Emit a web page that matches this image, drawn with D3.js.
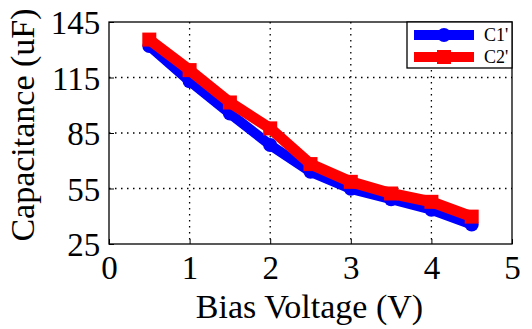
<!DOCTYPE html>
<html>
<head>
<meta charset="utf-8">
<script src="https://cdn.jsdelivr.net/npm/d3@7"></script>
<style>
  body { margin: 0; background: #fff; }
  svg { display: block; }
  svg text { font-family: "Liberation Serif", "Times New Roman", serif; fill: #000; }
</style>
</head>
<body>
<div id="chart"></div>
<script>
// data
var voltage = [0.5, 1, 1.5, 2, 2.5, 3, 3.5, 4, 4.5];
var c1 = [132, 113, 95.5, 78.5, 64, 54.8, 49.2, 43.5, 35.5];
var c2 = [135.5, 119, 101.5, 87.5, 68.2, 58.6, 52.3, 47.8, 39.8];
var xTicks = [0, 1, 2, 3, 4, 5];
var yTicks = [25, 55, 85, 115, 145];
var seriesNames = ["C1'", "C2'"];

var width = 532,
    height = 329,
    margin = {top: 22, right: 20, bottom: 85, left: 109};

var svg = d3.select("#chart").append("svg")
    .attr("width", width)
    .attr("height", height);

var w = width - margin.left - margin.right,
    h = height - margin.top - margin.bottom;

var x = d3.scaleLinear().domain([0, 5]).range([0, w]);
var y = d3.scaleLinear().domain([25, 145]).range([h, 0]);

var g = svg.append("g")
    .attr("transform", "translate(" + margin.left + "," + margin.top + ")");

// dotted grid
g.append("g").selectAll("line")
    .data(xTicks.slice(1, -1))
    .enter().append("line")
    .attr("x1", function(d){ return x(d); })
    .attr("x2", function(d){ return x(d); })
    .attr("y1", 0).attr("y2", h)
    .attr("stroke", "#000").attr("stroke-width", 1.3)
    .attr("stroke-dasharray", "1.5,4.5");

g.append("g").selectAll("line")
    .data(yTicks.slice(1, -1))
    .enter().append("line")
    .attr("y1", function(d){ return y(d); })
    .attr("y2", function(d){ return y(d); })
    .attr("x1", 0).attr("x2", w)
    .attr("stroke", "#000").attr("stroke-width", 1.3)
    .attr("stroke-dasharray", "1.5,4.5");

// axes
var xAxis = d3.axisBottom(x).tickValues(xTicks).tickFormat(d3.format("d"))
    .tickSizeInner(-5).tickSizeOuter(0).tickPadding(10);
var yAxis = d3.axisLeft(y).tickValues(yTicks).tickFormat(d3.format("d"))
    .tickSizeInner(-5).tickSizeOuter(0).tickPadding(12);

var gx = g.append("g")
    .attr("transform", "translate(0," + h + ")")
    .call(xAxis);
gx.select(".domain").remove();
gx.selectAll("line").attr("stroke", "#000");
gx.selectAll("text")
    .style("font-size", "33px")
    .style("font-family", "'Liberation Serif', serif")
    .attr("fill", "#000")
    .attr("dy", "0.75em");

var gy = g.append("g").call(yAxis);
gy.select(".domain").remove();
gy.selectAll("line").attr("stroke", "#000");
gy.selectAll("text")
    .style("font-size", "33px")
    .style("font-family", "'Liberation Serif', serif")
    .attr("fill", "#000")
    .attr("dx", "0.1em")
    .attr("dy", "0.35em");

// frame
g.append("rect")
    .attr("width", w).attr("height", h)
    .attr("fill", "none").attr("stroke", "#000").attr("stroke-width", 1.3);

// series
var line = d3.line()
    .x(function(d){ return x(d[0]); })
    .y(function(d){ return y(d[1]); });

var blueData = voltage.map(function(v, i){ return [v, c1[i]]; });
var redData = voltage.map(function(v, i){ return [v, c2[i]]; });

g.append("path").datum(blueData)
    .attr("d", line)
    .attr("fill", "none").attr("stroke", "#0000ff")
    .attr("stroke-width", 10).attr("stroke-linejoin", "round");
g.selectAll(".dot").data(blueData).enter().append("circle")
    .attr("class", "dot")
    .attr("cx", function(d){ return x(d[0]); })
    .attr("cy", function(d){ return y(d[1]); })
    .attr("r", 7).attr("fill", "#0000ff");

g.append("path").datum(redData)
    .attr("d", line)
    .attr("fill", "none").attr("stroke", "#ff0000")
    .attr("stroke-width", 11).attr("stroke-linejoin", "miter");
g.selectAll(".sq").data(redData).enter().append("rect")
    .attr("class", "sq")
    .attr("x", function(d){ return x(d[0]) - 7; })
    .attr("y", function(d){ return y(d[1]) - 7; })
    .attr("width", 14).attr("height", 14)
    .attr("fill", "#ff0000");

// legend
var lg = g.append("g").attr("transform", "translate(" + (w - 105) + ",0)");
lg.append("rect")
    .attr("width", 105).attr("height", 46)
    .attr("fill", "#fff").attr("stroke", "#000").attr("stroke-width", 1.3);
var colors = ["#0000ff", "#ff0000"];
seriesNames.forEach(function(name, i){
    var ly = 13 + i * 22;
    lg.append("line")
        .attr("x1", 7).attr("x2", 67).attr("y1", ly).attr("y2", ly)
        .attr("stroke", colors[i]).attr("stroke-width", 10);
    if (i == 0) {
        lg.append("circle").attr("cx", 37).attr("cy", ly).attr("r", 7).attr("fill", colors[i]);
    } else {
        lg.append("rect").attr("x", 30).attr("y", ly - 7).attr("width", 14).attr("height", 14).attr("fill", colors[i]);
    }
    lg.append("text")
        .attr("x", 77).attr("y", ly + 6)
        .style("font-size", "18px")
        .text(name);
});

// axis labels
svg.append("text")
    .attr("x", margin.left + w / 2 - 1)
    .attr("y", 318)
    .attr("text-anchor", "middle")
    .style("font-size", "34px")
    .text("Bias Voltage (V)");

svg.append("text")
    .attr("transform", "translate(34," + (margin.top + h / 2 - 8) + ") rotate(-90)")
    .attr("text-anchor", "middle")
    .style("font-size", "34px")
    .text("Capacitance (uF)");
</script>
</body>
</html>
